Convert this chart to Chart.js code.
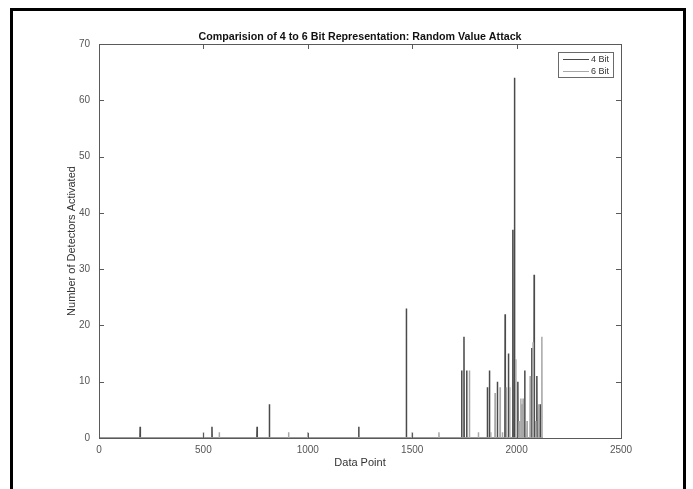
<!DOCTYPE html>
<html>
<head>
<meta charset="utf-8">
<script src="https://cdn.jsdelivr.net/npm/chart.js@4.4.1/dist/chart.umd.min.js"></script>
<style>
  html, body { margin: 0; padding: 0; background: #fff; }
  #wrap { position: relative; width: 693px; height: 489px; overflow: hidden; }
  #frame { position: absolute; left: 10px; top: 8px; width: 670px; height: 520px;
           border: 3px solid #000; border-bottom: none; pointer-events: none; }
</style>
</head>
<body>
<div id="wrap">
  <canvas id="attackChart" width="693" height="489"></canvas>
  <div id="frame"></div>
</div>
<script>
// Chart text
const chartTitle = 'Comparision of 4 to 6 Bit Representation: Random Value Attack';
const xTitle = 'Data Point';
const yTitle = 'Number of Detectors Activated';
const seriesNames = ['4 Bit', '6 Bit'];

// Axis ticks
const xTicks = [0, 500, 1000, 1500, 2000, 2500];
const yTicks = [0, 10, 20, 30, 40, 50, 60, 70];

// Data points run from 1 to lastPoint, zero everywhere except the spikes below
const lastPoint = 2125;

// 4 Bit spikes: data point index and detectors activated
const fourBitAt    = [197, 541, 757, 816, 1244, 1472, 1737, 1748, 1761, 1860, 1870, 1908, 1945, 1961, 1982, 1990, 2006, 2039, 2073, 2084, 2097, 2113];
const fourBitCount = [2,   2,   2,   6,   2,    23,   12,   18,   12,   9,    12,   10,   22,   15,   37,   64,   10,   12,   16,   29,   11,   6];

// 6 Bit spikes
const sixBitAt    = [500, 576, 908, 1000, 1500, 1628, 1774, 1817, 1876, 1897, 1921, 1932, 1951, 1967, 1996, 2012, 2020, 2026, 2031, 2050, 2065, 2079, 2092, 2106, 2121];
const sixBitCount = [1,   1,   1,   1,    1,    1,    12,   1,    1,    8,    9,    1,    9,    9,    14,   3,    7,    6,    7,    3,    11,   17,   3,    6,    18];

const seriesColors = ['#4a4a4a', '#a8a8a8'];
const fontFamily = '"Liberation Sans", Arial, Helvetica, sans-serif';

// Turn spike lists into a full series of points (zeros between spikes)
function spikeSeries(at, counts) {
    const pts = [{ x: 1, y: 0 }];
    at.forEach((p, i) => {
        pts.push({ x: p - 1, y: 0 }, { x: p, y: counts[i] }, { x: p + 1, y: 0 });
    });
    pts.push({ x: lastPoint, y: 0 });
    return pts;
}

// Box, inward ticks, title and legend drawn MATLAB style
const matlabAxes = {
    id: 'matlabAxes',
    afterDraw(chart) {
        const { ctx, chartArea: a, scales } = chart;
        ctx.save();
        ctx.strokeStyle = '#5a5a5a';
        ctx.lineWidth = 1;
        ctx.strokeRect(a.left + 0.5, a.top + 0.5, a.right - a.left, a.bottom - a.top);

        ctx.beginPath();
        scales.x.ticks.forEach(t => {
            const px = Math.round(scales.x.getPixelForValue(t.value)) + 0.5;
            ctx.moveTo(px, a.bottom); ctx.lineTo(px, a.bottom - 5);
            ctx.moveTo(px, a.top); ctx.lineTo(px, a.top + 5);
        });
        scales.y.ticks.forEach(t => {
            const py = Math.round(scales.y.getPixelForValue(t.value)) + 0.5;
            ctx.moveTo(a.left, py); ctx.lineTo(a.left + 5, py);
            ctx.moveTo(a.right, py); ctx.lineTo(a.right - 5, py);
        });
        ctx.stroke();

        // title
        ctx.fillStyle = '#111';
        ctx.font = 'bold 10.7px ' + fontFamily;
        ctx.textAlign = 'center';
        ctx.textBaseline = 'middle';
        ctx.fillText(chartTitle, (a.left + a.right) / 2, a.top - 7);

        // legend box in the upper right corner
        const lw = 55, lh = 25;
        const lx = a.right - 8 - lw, ly = a.top + 8;
        ctx.fillStyle = '#fff';
        ctx.fillRect(lx, ly, lw, lh);
        ctx.strokeStyle = '#6a6a6a';
        ctx.strokeRect(lx + 0.5, ly + 0.5, lw, lh);
        ctx.font = '9px ' + fontFamily;
        ctx.textAlign = 'left';
        chart.data.datasets.forEach((ds, i) => {
            const rowY = ly + 7 + i * 12 + 0.5;
            ctx.strokeStyle = ds.borderColor;
            ctx.beginPath();
            ctx.moveTo(lx + 5, rowY);
            ctx.lineTo(lx + 31, rowY);
            ctx.stroke();
            ctx.fillStyle = '#333';
            ctx.fillText(ds.label, lx + 33, rowY + 0.5);
        });
        ctx.restore();
    }
};

const ctx = document.getElementById('attackChart').getContext('2d');
const attackChart = new Chart(ctx, {
    type: 'line',
    data: {
        datasets: [
            {
                label: seriesNames[0],
                data: spikeSeries(fourBitAt, fourBitCount),
                borderColor: seriesColors[0],
                borderWidth: 1.5,
                order: 2
            },
            {
                label: seriesNames[1],
                data: spikeSeries(sixBitAt, sixBitCount),
                borderColor: seriesColors[1],
                borderWidth: 1.5,
                order: 1
            }
        ]
    },
    options: {
        responsive: false,
        animation: false,
        devicePixelRatio: 1,
        elements: { point: { radius: 0 }, line: { tension: 0 } },
        layout: { padding: { left: 0, right: 72, top: 44, bottom: 0 } },
        plugins: { legend: { display: false }, tooltip: { enabled: false } },
        scales: {
            x: {
                type: 'linear',
                min: 0,
                max: 2500,
                afterBuildTicks: s => { s.ticks = xTicks.map(v => ({ value: v })); },
                afterFit: s => { s.height = 51; },
                grid: { display: false, drawTicks: false },
                border: { display: false },
                ticks: {
                    color: '#555', padding: 6, maxRotation: 0,
                    font: { family: fontFamily, size: 10 },
                    callback: v => String(v)
                },
                title: {
                    display: true, text: xTitle, color: '#333',
                    font: { family: fontFamily, size: 11 },
                    padding: { top: 0, bottom: 19 }
                }
            },
            y: {
                min: 0,
                max: 70,
                afterBuildTicks: s => { s.ticks = yTicks.map(v => ({ value: v })); },
                afterFit: s => { s.width = 99; },
                grid: { display: false, drawTicks: false },
                border: { display: false },
                ticks: {
                    color: '#555', padding: 9,
                    font: { family: fontFamily, size: 10 },
                    callback: v => String(v)
                },
                title: {
                    display: true, text: yTitle, color: '#333',
                    font: { family: fontFamily, size: 11 },
                    padding: { top: 65, bottom: 0 }
                }
            }
        }
    },
    plugins: [matlabAxes]
});
</script>
</body>
</html>
